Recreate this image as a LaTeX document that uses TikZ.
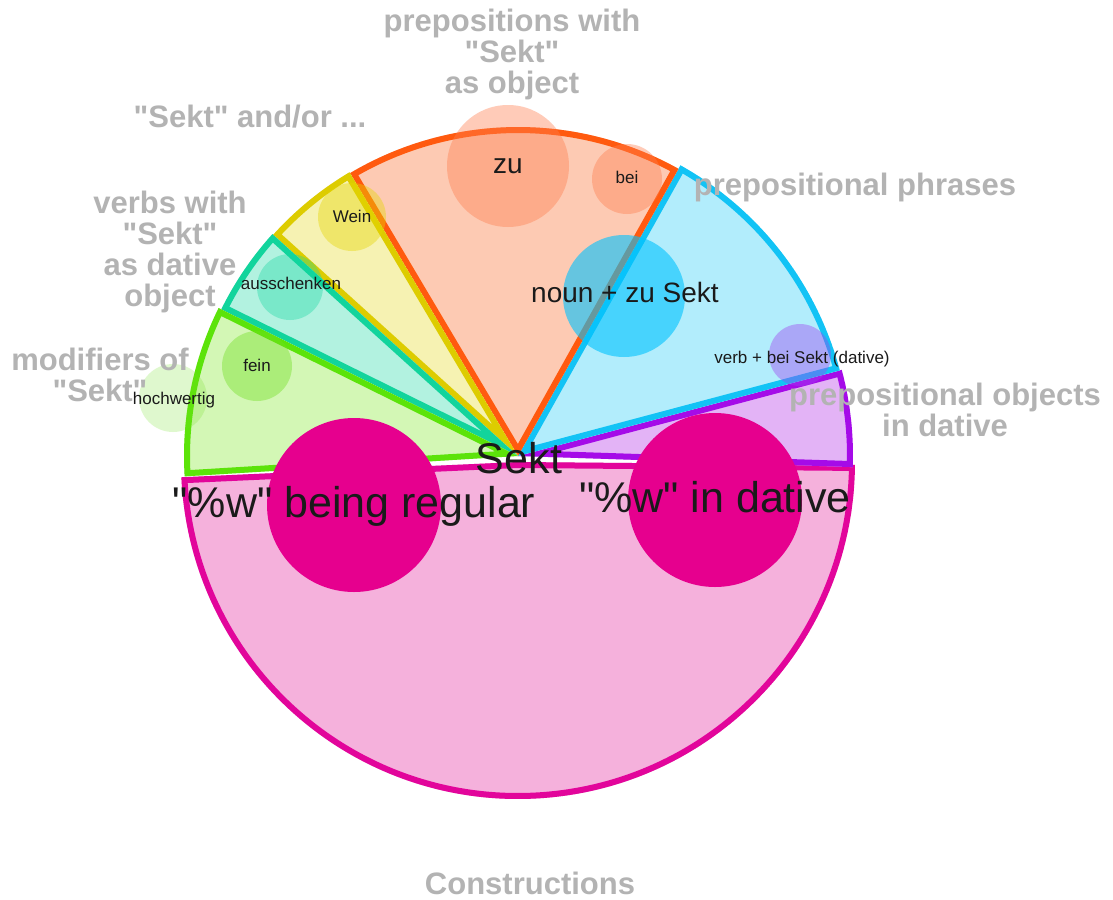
\documentclass[tikz,border=0pt]{standalone}
\usepackage{fontspec}
\setmainfont{Liberation Sans}[Ligatures=TeXOff]

% sector fills and outlines
\definecolor{pinkfill}{HTML}{F5B1DC}
\definecolor{pinkline}{HTML}{E2059B}
\definecolor{purplefill}{HTML}{E3B3F6}
\definecolor{purpleline}{HTML}{A50BE8}
\definecolor{bluefill}{HTML}{B2EDFC}
\definecolor{blueline}{HTML}{12C3F5}
\definecolor{orangefill}{HTML}{FDCAB3}
\definecolor{orangeline}{HTML}{FF5A0F}
\definecolor{yellowfill}{HTML}{F6F2B2}
\definecolor{yellowline}{HTML}{DDCC00}
\definecolor{tealfill}{HTML}{B2F2E0}
\definecolor{tealline}{HTML}{12D49C}
\definecolor{greenfill}{HTML}{D3F7B5}
\definecolor{greenline}{HTML}{5CE30A}
% bubbles
\definecolor{zuc}{HTML}{FF7E4E}
\definecolor{nounc}{HTML}{00C3FF}
\definecolor{verbc}{HTML}{A040F0}
\definecolor{weinc}{HTML}{E6D600}
\definecolor{ausc}{HTML}{10D8A0}
\definecolor{feinc}{HTML}{70E020}
\definecolor{magc}{HTML}{E6008E}
% text
\definecolor{labelgray}{HTML}{B3B3B3}
\definecolor{ink}{HTML}{1A1A1A}

% filled wedge with an outline kept inside its own area
% #1 centre, #2 start angle, #3 end angle, #4 radius, #5 fill, #6 outline
\newcommand\wedgepart[6]{%
  \begin{scope}
    \clip (#1) -- ++(#2:#4) arc[start angle=#2, end angle=#3, radius=#4] -- cycle;
    \fill[#5] (#1) -- ++(#2:#4) arc[start angle=#2, end angle=#3, radius=#4] -- cycle;
    \draw[#6, line width=12, line join=round] (#1) -- ++(#2:#4) arc[start angle=#2, end angle=#3, radius=#4] -- cycle;
  \end{scope}}

\begin{document}
\begin{tikzpicture}[x=1pt,y=1pt,
  lbl/.style={text=labelgray, font=\fontsize{31}{31}\selectfont\bfseries, align=center, inner sep=0},
  bigtxt/.style={text=ink, font=\fontsize{43}{43}\selectfont, inner sep=0, anchor=base},
  midtxt/.style={text=ink, font=\fontsize{28}{28}\selectfont, inner sep=0, anchor=base},
  smalltxt/.style={text=ink, font=\fontsize{17}{17}\selectfont, inner sep=0, anchor=base},
]
\useasboundingbox (0,0) rectangle (1113,-899);
\fill[white] (0,0) rectangle (1113,-899);

\coordinate (C) at (518,-456);
\coordinate (P) at (518,-462);

% wedges
\wedgepart{P}{182.6}{359.5}{337}{pinkfill}{pinkline}
\wedgepart{C}{-1.9}{14.9}{335}{purplefill}{purpleline}
\wedgepart{C}{14.9}{60.8}{333}{bluefill}{blueline}
\wedgepart{C}{60.8}{120.7}{329}{orangefill}{orangeline}
\wedgepart{C}{120.7}{137.9}{330}{yellowfill}{yellowline}
\wedgepart{C}{137.9}{153.7}{331}{tealfill}{tealline}
\wedgepart{C}{153.7}{183.5}{334}{greenfill}{greenline}

% bubbles
\fill[zuc, fill opacity=0.4] (508,-166) circle[radius=61];
\fill[zuc, fill opacity=0.4] (627,-179) circle[radius=35];
\fill[nounc, fill opacity=0.6] (624,-296) circle[radius=61];
\fill[verbc, fill opacity=0.4] (800,-355) circle[radius=31];
\fill[weinc, fill opacity=0.4] (352,-217) circle[radius=34];
\fill[ausc, fill opacity=0.35] (290,-287) circle[radius=33];
\fill[feinc, fill opacity=0.4] (257,-366) circle[radius=35];
\fill[feinc, fill opacity=0.22] (173,-398) circle[radius=34];
\fill[magc] (354,-505) circle[radius=87];
\fill[magc] (715,-500) circle[radius=87];

% group labels
\node[lbl, anchor=north] (lPrep) at (512,-8.5) {prepositions with\\"Sekt"\\as object};
\node[lbl, anchor=base] (lAnd) at (250,-127) {"Sekt" and/or ...};
\node[lbl, anchor=north] (lVerbs) at (170,-190.5) {verbs with\\"Sekt"\\as dative\\object};
\node[lbl, anchor=north] (lMod) at (100,-347.5) {modifiers of\\"Sekt"};
\node[lbl, anchor=base] (lPP) at (855,-195) {prepositional phrases};
\node[lbl, anchor=north] (lPO) at (945,-382.5) {prepositional objects\\in dative};
\node[lbl, anchor=base] (lCon) at (530,-894) {Constructions};

% item texts
\node[bigtxt] (tSekt) at (519,-473) {Sekt};
\node[bigtxt] (tReg) at (354,-517) {"\%w" being regular};
\node[bigtxt] (tDat) at (715,-512) {"\%w" in dative};
\node[midtxt] (tZu) at (508,-173) {zu};
\node[midtxt] (tNoun) at (625,-302) {noun + zu Sekt};
\node[smalltxt] (tBei) at (627,-183) {bei};
\node[smalltxt] (tVerb) at (802,-363) {verb + bei Sekt (dative)};
\node[smalltxt] (tWein) at (352,-222) {Wein};
\node[smalltxt] (tAus) at (291,-289) {ausschenken};
\node[smalltxt] (tFein) at (257,-371) {fein};
\node[smalltxt] (tHoch) at (174,-404) {hochwertig};
\end{tikzpicture}
\end{document}
